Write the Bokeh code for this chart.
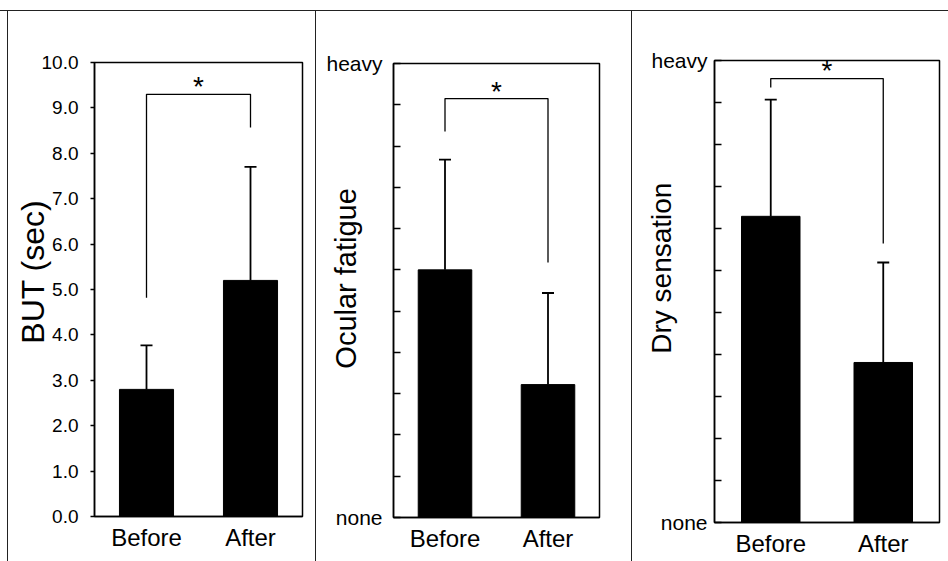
from bokeh.plotting import figure
from bokeh.models import FactorRange, Range1d, FixedTicker, Div
from bokeh.layouts import row, column
from bokeh.embed import file_html
from bokeh.resources import INLINE
from bokeh.core.properties import value

FONT = "Liberation Sans"

# ---------------- data ----------------
categories = ["Before", "After"]

but_mean = [2.8, 5.2]
but_sd = [0.97, 2.5]
but_ticks = [0, 1, 2, 3, 4, 5, 6, 7, 8, 9, 10]
but_tick_labels = ["0.0", "1.0", "2.0", "3.0", "4.0", "5.0", "6.0", "7.0", "8.0", "9.0", "10.0"]
but_bracket = [4.82, 9.3, 8.57]      # left leg end, top, right leg end
but_star_y = 9.56

fatigue_mean = [6.0, 3.22]
fatigue_sd = [2.67, 2.22]
scale_ticks = [0, 1, 2, 3, 4, 5, 6, 7, 8, 9, 10, 11]
scale_tick_labels = ["none", "", "", "", "", "", "", "", "", "", "", "heavy"]
fatigue_bracket = [9.35, 10.15, 6.18]
fatigue_star_y = 10.42

dry_mean = [7.29, 3.81]
dry_sd = [2.78, 2.38]
dry_bracket = [10.36, 10.57, 6.64]
dry_star_y = 10.85

ROW_TOP = 11
ROW_H = 561 - ROW_TOP
NB = "\u00a0"


def make_panel(mean, sd, ticks, tick_labels, ymax, bracket, star_y, ylabel, ylabel_pad,
               ylabel_size, ylabel_standoff, width, bl, br, bt, bb, tick_in, tick_out,
               ytick_std, ytick_size, xlab_std):
    p = figure(width=width, height=ROW_H, x_range=FactorRange(*categories),
               y_range=Range1d(0, ymax), output_backend="svg", toolbar_location=None,
               min_border_left=bl, min_border_right=br, min_border_top=bt,
               min_border_bottom=bb)
    p.background_fill_color = "white"
    p.border_fill_color = "white"
    p.outline_line_color = "black"
    p.outline_line_width = 1.5
    p.outline_line_alpha = 1.0
    p.xgrid.visible = False
    p.ygrid.visible = False

    upper = [m + s for m, s in zip(mean, sd)]
    p.vbar(x=categories, top=mean, width=0.52, fill_color="black", line_color="black")
    p.segment(x0=categories, y0=mean, x1=categories, y1=upper,
              line_color="black", line_width=1.8)
    p.scatter(x=categories, y=upper, marker="dash", size=12,
              line_color="black", line_width=1.8)

    # significance bracket
    p.line(x=[categories[0], categories[0], categories[1], categories[1]],
           y=[bracket[0], bracket[1], bracket[1], bracket[2]],
           line_color="black", line_width=1.3)
    mid = len(categories) / 2.0
    p.text(x=[mid], y=[star_y], text=["*"], text_font=value(FONT),
           text_font_size="28px", text_align="center", text_baseline="middle",
           text_color="black", y_offset=4)

    # y axis
    ya = p.yaxis[0]
    ya.ticker = FixedTicker(ticks=ticks)
    ya.major_label_overrides = {t: l for t, l in zip(ticks, tick_labels)}
    ya.minor_tick_line_color = None
    ya.major_tick_in = tick_in
    ya.major_tick_out = tick_out
    ya.major_tick_line_color = "black"
    ya.major_tick_line_width = 1.3
    ya.axis_line_color = "black"
    ya.axis_line_width = 1.5
    ya.major_label_standoff = ytick_std
    ya.major_label_text_font = FONT
    ya.major_label_text_font_size = ytick_size
    ya.major_label_text_color = "black"
    ya.axis_label = NB * ylabel_pad + ylabel
    ya.axis_label_text_font = FONT
    ya.axis_label_text_font_size = ylabel_size
    ya.axis_label_text_font_style = "normal"
    ya.axis_label_text_color = "black"
    ya.axis_label_standoff = ylabel_standoff

    # x axis
    xa = p.xaxis[0]
    xa.major_tick_in = 0
    xa.major_tick_out = 0
    xa.minor_tick_line_color = None
    xa.axis_line_color = "black"
    xa.axis_line_width = 1.5
    xa.major_label_standoff = xlab_std
    xa.major_label_text_font = FONT
    xa.major_label_text_font_size = "24px"
    xa.major_label_text_color = "black"
    return p


p1 = make_panel(but_mean, but_sd, but_ticks, but_tick_labels, 10, but_bracket, but_star_y,
                "BUT (sec)", 4, "32px", -12, width=307, bl=86, br=13, bt=51, bb=45,
                tick_in=0, tick_out=4, ytick_std=12, ytick_size="19px", xlab_std=7)
p2 = make_panel(fatigue_mean, fatigue_sd, scale_ticks, scale_tick_labels, 11,
                fatigue_bracket, fatigue_star_y, "Ocular fatigue", 3, "29px", -39,
                width=315, bl=77, br=32, bt=52, bb=44, tick_in=7, tick_out=0,
                ytick_std=11, ytick_size="21px", xlab_std=7)
p3 = make_panel(dry_mean, dry_sd, scale_ticks, scale_tick_labels, 11,
                dry_bracket, dry_star_y, "Dry sensation", 6, "28px", -29,
                width=316, bl=82, br=9, bt=49, bb=39, tick_in=7, tick_out=0,
                ytick_std=7, ytick_size="21px", xlab_std=7)


def vline():
    return Div(text="", width=1, height=ROW_H, margin=0,
               styles={"background-color": "#222222"})


top_gap = Div(text="", width=948, height=10, margin=0)
top_line = Div(text="", width=948, height=1, margin=0,
               styles={"background-color": "#222222"})
left_gap = Div(text="", width=7, height=ROW_H, margin=0)

layout = column(top_gap, top_line,
                row(left_gap, vline(), column(p1), vline(), column(p2), vline(),
                    column(p3), spacing=0),
                spacing=0)

open("out.html", "w").write(file_html(layout, INLINE))
